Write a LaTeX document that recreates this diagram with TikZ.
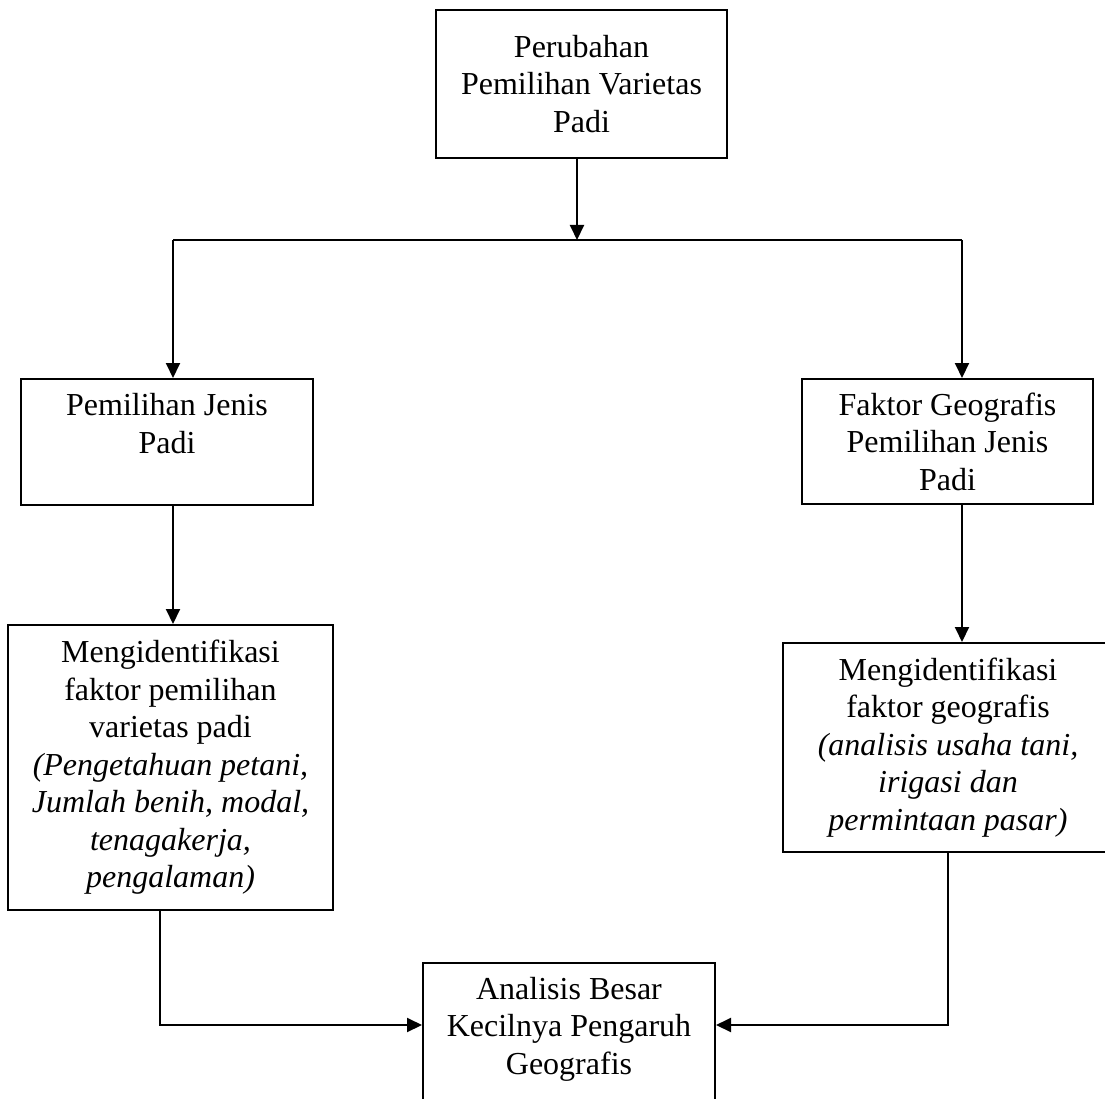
\documentclass[tikz,border=0pt]{standalone}
\usepackage{fontspec}
\setmainfont{Liberation Serif}
\usetikzlibrary{arrows.meta}
\usetikzlibrary{calc}

\begin{document}
\begin{tikzpicture}[x=1pt,y=-1pt,line width=2pt,
  box/.style={draw,align=center,inner sep=0pt,font=\fontsize{32}{37.5}\selectfont},
  arr/.style={-{Triangle[length=15pt,width=14pt]}}]
\useasboundingbox (0,0) rectangle (1105,1099);
\node (ubah) [box,minimum width=291pt,minimum height=148pt] at (581.5,84) {Perubahan\\Pemilihan Varietas\\Padi};
\node (pilih) [box,minimum width=292pt,minimum height=126pt] at (167,442) {Pemilihan Jenis\\Padi\\\mbox{}};
\node (geo) [box,minimum width=291pt,minimum height=125pt] at (947.5,441.5) {Faktor Geografis\\Pemilihan Jenis\\Padi};
\node (ident) [box,minimum width=325pt,minimum height=285pt] at (170.5,767.5) {Mengidentifikasi\\faktor pemilihan\\varietas padi\\\textit{(Pengetahuan petani,}\\\textit{Jumlah benih, modal,}\\\textit{tenagakerja,}\\\textit{pengalaman)}};
\node (identgeo) [box,minimum width=330pt,minimum height=209pt] at (948,747.5) {Mengidentifikasi\\faktor geografis\\\textit{(analisis usaha tani,}\\\textit{irigasi dan}\\\textit{permintaan pasar)}};
\node (hasil) [box,minimum width=292pt,minimum height=200pt] at (569,1063) {Analisis Besar\\Kecilnya Pengaruh\\Geografis\\\mbox{}\\\mbox{}};
% cabang atas
\coordinate (cabang) at (577,240);
\coordinate (kiri) at (173,240);
\coordinate (kanan) at (962,240);
\draw[arr] (ubah.south -| cabang) -- (cabang);
\draw (kiri) -- (kanan);
\draw[arr] (kiri) -- (kiri |- pilih.north);
\draw[arr] (kanan) -- (kanan |- geo.north);
\draw[arr] (kiri |- pilih.south) -- (kiri |- ident.north);
\draw[arr] (kanan |- geo.south) -- (kanan |- identgeo.north);
% menuju analisis
\coordinate (masuk) at (160,1025);
\draw[arr] (masuk |- ident.south) |- (hasil.west |- masuk);
\draw[arr] (identgeo.south) |- (hasil.east |- masuk);
\end{tikzpicture}
\end{document}
